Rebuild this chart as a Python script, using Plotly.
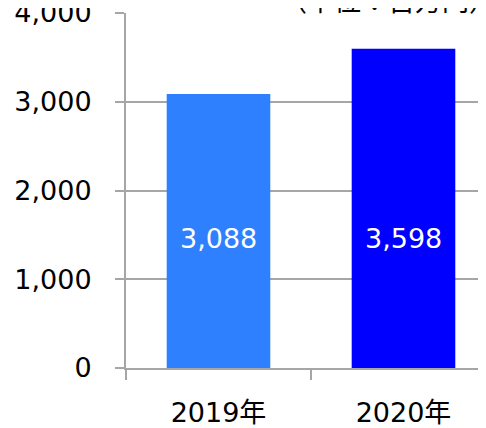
import plotly.graph_objects as go

categories = ["2019年", "2020年"]
values = [3088, 3598]
value_labels = ["3,088", "3,598"]
bar_colors = ["#2F80FF", "#0000FF"]
y_ticks = [0, 1000, 2000, 3000, 4000]
y_tick_labels = ["0", "1,000", "2,000", "3,000", "4,000"]
unit_label = "（単位：百万円）"
label_level = 1460

FONT = "DejaVu Sans, Noto Sans CJK JP, sans-serif"
GRID = "#A6A6A6"
FS = 27

fig = go.Figure()
fig.add_trace(go.Bar(
    x=categories, y=values, marker=dict(color=bar_colors, line=dict(width=0)),
    width=0.56, showlegend=False, hoverinfo="skip",
))

for c, lab in zip(categories, value_labels):
    fig.add_annotation(x=c, y=label_level, text=lab, showarrow=False,
                       font=dict(family=FONT, size=FS, color="white"),
                       xanchor="center", yanchor="middle")

fig.add_annotation(xref="paper", yref="paper", x=1.0, y=1.0, yshift=-8, xshift=12,
                   text=unit_label, showarrow=False,
                   xanchor="right", yanchor="bottom",
                   font=dict(family="Noto Sans CJK JP", size=27, color="black"))

fig.update_layout(
    width=486, height=428,
    margin=dict(l=118, r=8, t=5, b=68, autoexpand=False),
    paper_bgcolor="white", plot_bgcolor="white",
    font=dict(family=FONT, size=FS, color="black"),
    bargap=0.44,
)
fig.update_xaxes(
    type="category", range=[-0.5, 1.446], tickson="boundaries",
    ticks="outside", ticklen=10, tickwidth=1.5, tickcolor=GRID,
    showline=True, linecolor=GRID, linewidth=2,
    showgrid=False, ticklabelstandoff=20, automargin=False,
    tickfont=dict(family=FONT, size=FS, color="black"),
)
fig.update_yaxes(
    range=[0, 4000], tickvals=y_ticks, ticktext=y_tick_labels,
    ticks="outside", ticklen=9, tickwidth=1.5, tickcolor=GRID,
    showline=True, linecolor=GRID, linewidth=2,
    showgrid=True, gridcolor=GRID, gridwidth=2,
    zeroline=False, ticklabelstandoff=18, automargin=False,
    ticklabeloverflow="allow",
    tickfont=dict(family=FONT, size=FS, color="black"),
)

fig.write_html("out.html")
